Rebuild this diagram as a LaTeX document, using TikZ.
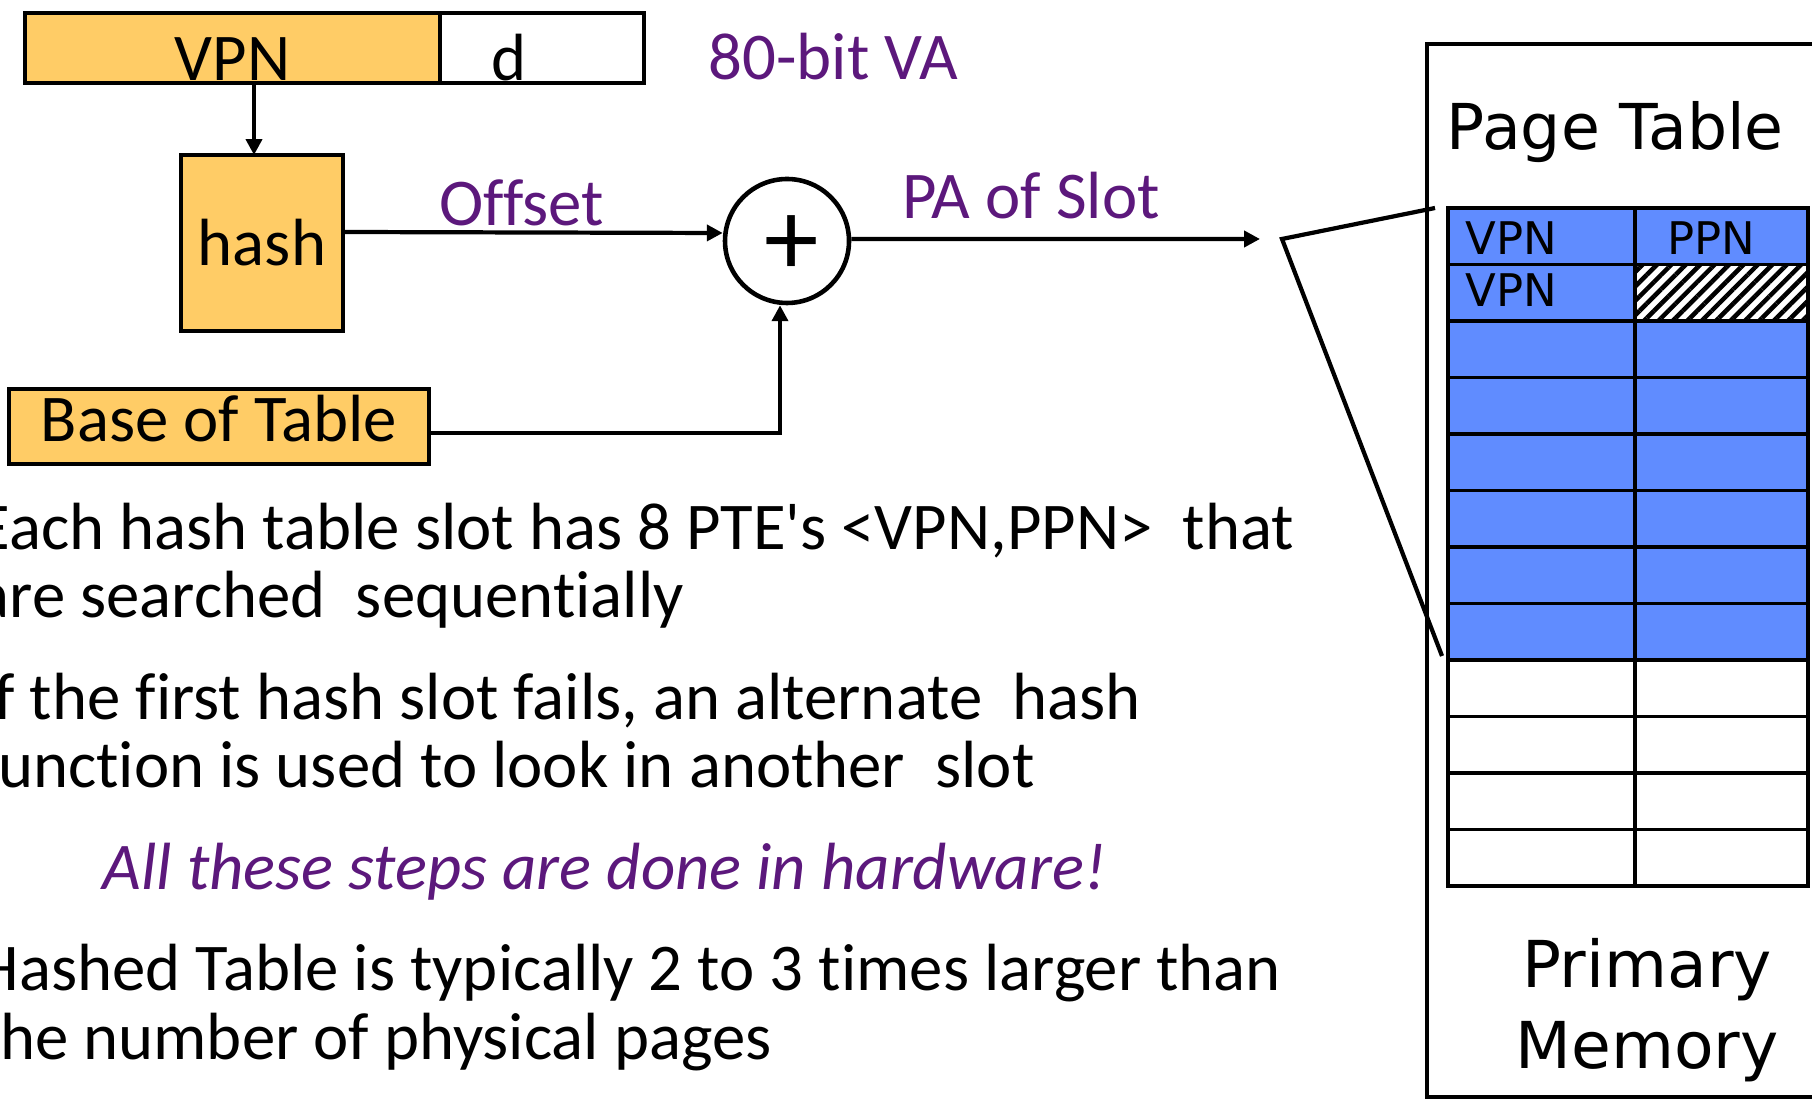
\documentclass[tikz,border=0pt]{standalone}
\usepackage{fontspec}
\setmainfont{Carlito}[Ligatures=NoCommon]
\newfontfamily\vfont{DejaVu Sans}
\usetikzlibrary{arrows.meta,positioning,patterns.meta}
\definecolor{boxYellow}{RGB}{255,204,102}
\definecolor{rowBlue}{RGB}{96,140,255}
\definecolor{noteViolet}{RGB}{92,24,124}
\tikzset{
  box/.style={rectangle, draw=black, line width=1.3pt, outer sep=0pt, fill=boxYellow, inner sep=0pt, font=\fontsize{19}{22}\selectfont},
  lbl/.style={inner sep=0pt, text=noteViolet, font=\fontsize{19}{22}\selectfont},
  body/.style={inner sep=0pt, anchor=base west, align=left, font=\fontsize{19}{19.4}\selectfont},
  cellText/.style={inner sep=0pt, anchor=base west, font=\vfont\fontsize{12.8}{14}\selectfont},
  arrow/.style={-{Triangle[length=4.5pt,width=4.5pt]}, line width=1.2pt, draw=black},
  wire/.style={line width=1.2pt, draw=black},
  cell/.style={line width=1.1pt, draw=black}
}

\begin{document}
\begin{tikzpicture}[x=0.1mm, y=-0.1mm]
  \useasboundingbox (0,0) rectangle (1812,1100);
  \clip (0,0) rectangle (1812,1100);

  \node[box, minimum width=41.5mm, minimum height=7mm, text height=6.5mm, text depth=0pt] (vpn) at (232.5,48) {VPN};
  \node[box, fill=white, minimum width=20.4mm, minimum height=7mm, text height=6.5mm, text depth=0pt, anchor=west] (off) at (vpn.east) {d\hspace*{6.6mm}};
  \node[lbl, anchor=base west] (va) at (708,80) {80-bit VA};

  \node[box, minimum width=16.2mm, minimum height=17.6mm] (hash) at (262,243) {hash};
  \node[box, minimum width=42mm, minimum height=7.5mm, text depth=1.7mm] (base) at (219,426.5) {Base of Table};
  \node[circle, draw=black, line width=1.3pt, minimum size=12.4mm, inner sep=0pt, text height=7mm, font=\fontsize{31}{31}\selectfont] (sum) at (787,241) {\hspace*{1mm}+};
  \coordinate (paEnd) at (1260,239);

  \draw[arrow] ([xshift=-0.8mm]hash.north |- vpn.south) -- ([xshift=-0.8mm]hash.north);
  \draw[arrow] ([yshift=1.1mm]hash.east) -- node[lbl, above=0.4mm, pos=0.47] {Offset} ([yshift=0.8mm]sum.west);
  \draw[arrow] ([yshift=0.2mm]sum.east) -- node[lbl, above=1.8mm, pos=0.44] {PA of Slot} (paEnd);
  \draw[arrow] ([yshift=-0.65mm]base.east) -| ([xshift=-0.7mm]sum.south);

  \draw[line width=1.3pt] (1427,44) rectangle (1840,1097);
  \node[inner sep=0pt, anchor=base west, font=\vfont\fontsize{18}{20}\selectfont] (ptTitle) at (1446,150) {Page Table};
  \foreach \r in {0,...,11}{
    \pgfmathsetmacro\ya{208+56.5*\r}
    \pgfmathsetmacro\yb{\ya+56.5}
    \ifnum\r<8 \def\rowfill{rowBlue}\else\def\rowfill{white}\fi
    \draw[cell, fill=\rowfill] (1448,\ya) rectangle (1635,\yb);
    \draw[cell, fill=\rowfill] (1635,\ya) rectangle (1808,\yb);
  }
  \draw[cell, preaction={fill=white}, pattern={Lines[angle=45,distance=2.9pt,line width=1.3pt]}] (1635,264.5) rectangle (1808,321);
  \node[cellText] (vpnA) at (1465,255) {VPN};
  \node[cellText] (ppnA) at (1667,255) {PPN};
  \node[cellText] (vpnB) at (1465,307) {VPN};
  \node[inner sep=0pt, align=center, font=\vfont\fontsize{18.4}{23}\selectfont, anchor=base] (mem) at (1647,1068) {Primary\\Memory};

  \coordinate (slotTop) at (1435,208);
  \coordinate (slotTip) at (1282,239);
  \coordinate (slotBot) at (1442,656);
  \draw[wire] (slotTop) -- (slotTip) -- (slotBot);

  \node[body] (noteA) at (-23,618) {Each hash table slot has 8 PTE\textquotesingle s <VPN,PPN>\ \ that\\are searched\ \ sequentially};
  \node[body] (noteB) at (-23,788) {If the first hash slot fails, an alternate\ \ hash\\function is used to look in another\ \ slot};
  \node[body, text=noteViolet, font=\itshape\fontsize{19}{19.4}\selectfont] (noteC) at (102,889) {All these steps are done in hardware!};
  \node[body] (noteD) at (-23,1059) {Hashed Table is typically 2 to 3 times larger than\\the number of physical pages};
\end{tikzpicture}
\end{document}
